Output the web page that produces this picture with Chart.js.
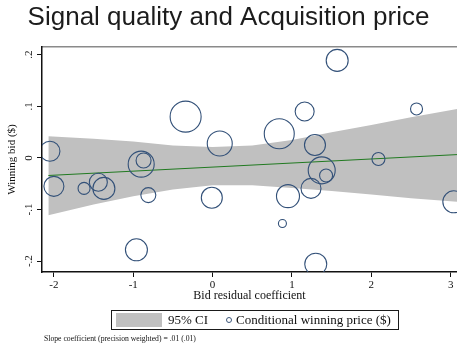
<!DOCTYPE html>
<html>
<head>
<meta charset="utf-8">
<script src="https://cdn.jsdelivr.net/npm/chart.js@4/dist/chart.umd.min.js"></script>
<style>
  html, body { margin: 0; padding: 0; background: #fff; }
  #wrap { position: relative; width: 457px; height: 344px; overflow: hidden; }
  #chart { position: absolute; left: 0; top: 0; }
  #legend {
    position: absolute; left: 111px; top: 310px; width: 286px; height: 18px;
    border: 1px solid #1a1a1a; font: 13px "Liberation Serif", serif; color: #111;
  }
  #legend .swatch { position: absolute; left: 4px; top: 2px; width: 46px; height: 14px; background: #c0c0c0; }
  #legend .lab { position: absolute; top: 0; line-height: 18px; white-space: nowrap; }
  #legend .dot {
    position: absolute; top: 6px; width: 6px; height: 6px; border-radius: 50%;
    border: 1px solid rgb(60,85,120); box-sizing: border-box;
  }
  #note {
    position: absolute; left: 44px; top: 334px; font: 7.7px "Liberation Serif", serif;
    line-height: 10px; color: #111; white-space: nowrap;
  }
</style>
</head>
<body>
<div id="wrap">
  <canvas id="chart" width="457" height="344"></canvas>
  <div id="legend"></div>
  <div id="note"></div>
</div>
<script>
// Conditional winning price per auction: bid residual coefficient vs winning bid,
// marker size proportional to precision weight.
const bidResidual = [-2.05, -2.00, -1.62, -1.44, -1.37, -0.90, -0.87, -0.81, -0.96, -0.34,
                      0.09, -0.01, 1.57, 1.16, 0.84, 1.29, 1.375, 1.43, 1.24, 0.95,
                      0.88, 1.30, 2.09, 2.57, 3.04];
const winningBid  = [0.013, -0.055, -0.059, -0.047, -0.059, -0.012, -0.005, -0.072, -0.178, 0.080,
                     0.028, -0.077, 0.189, 0.090, 0.047, 0.025, -0.024, -0.034, -0.059, -0.074,
                     -0.127, -0.206, -0.002, 0.095, -0.085];
const precision   = [1.00, 1.00, 0.60, 0.90, 1.10, 1.30, 0.75, 0.75, 1.10, 1.55,
                     1.25, 1.05, 1.10, 0.95, 1.50, 1.05, 1.35, 0.65, 1.00, 1.15,
                     0.40, 1.10, 0.65, 0.60, 1.10];

// Precision-weighted linear fit and its 95% confidence band
const fitX = [-2.07, 3.08];
const fitY = [-0.034, 0.0065];
const bandX     = [-2.07, -1.5, -1.0, -0.5, 0.0, 0.5, 1.0, 1.5, 2.0, 2.5, 3.08];
const bandUpper = [0.042, 0.037, 0.032, 0.024, 0.021, 0.024, 0.035, 0.050, 0.064, 0.079, 0.095];
const bandLower = [-0.111, -0.090, -0.074, -0.061, -0.053, -0.053, -0.058, -0.064, -0.071, -0.078, -0.085];

// Axis ticks
const xTickValues = [-2, -1, 0, 1, 2, 3];
const xTickLabels = ['-2', '-1', '0', '1', '2', '3'];
const yTickValues = [-0.2, -0.1, 0, 0.1, 0.2];
const yTickLabels = ['-.2', '-.1', '0', '.1', '.2'];

const ciLabel = '95% CI';
const pointLabel = 'Conditional winning price ($)';
const footnote = 'Slope coefficient (precision weighted) = .01 (.01)';

const RADIUS_PER_WEIGHT = 10;
const markerColor = 'rgb(50,80,120)';
const bandColor = '#c0c0c0';
const serif = '"Liberation Serif", "Times New Roman", serif';

const bubbles = bidResidual.map((x, i) => ({ x, y: winningBid[i], r: precision[i] * RADIUS_PER_WEIGHT }));
const fitLine = fitX.map((x, i) => ({ x, y: fitY[i] }));
const upper = bandX.map((x, i) => ({ x, y: bandUpper[i] }));
const lower = bandX.map((x, i) => ({ x, y: bandLower[i] }));

const tickFont = { family: serif, size: 11 };
const titleFont = { family: serif, size: 12 };

// The plot runs flush to the right edge, so no label padding is reserved there.
const noSidePadding = s => { s.paddingLeft = 0; s.paddingRight = 0; };

new Chart(document.getElementById('chart'), {
  type: 'bubble',
  data: {
    datasets: [
      {
        label: pointLabel, data: bubbles, order: 1,
        backgroundColor: 'rgba(0,0,0,0)', borderColor: markerColor, borderWidth: 1.1,
        hoverBorderWidth: 1.1
      },
      {
        type: 'line', label: 'Fitted values', data: fitLine, order: 2,
        borderColor: '#217a21', borderWidth: 1, pointRadius: 0, fill: false
      },
      {
        type: 'line', label: ciLabel, data: upper, order: 3,
        borderColor: 'rgba(0,0,0,0)', borderWidth: 0, pointRadius: 0,
        backgroundColor: bandColor, fill: '+1'
      },
      {
        type: 'line', label: 'lower', data: lower, order: 4,
        borderColor: 'rgba(0,0,0,0)', borderWidth: 0, pointRadius: 0, fill: false
      }
    ]
  },
  options: {
    responsive: false,
    animation: false,
    events: [],
    layout: { padding: 0, autoPadding: false },
    plugins: {
      legend: { display: false },
      tooltip: { enabled: false },
      title: {
        display: true,
        text: 'Signal quality and Acquisition price',
        color: '#1c1c1c',
        font: { family: '"Liberation Sans", Arial, sans-serif', size: 26, weight: 'normal', lineHeight: 1.2 },
        padding: { top: 2.4, bottom: 13.4 }
      }
    },
    scales: {
      x: {
        type: 'linear', position: 'bottom', min: -2.15, max: 3.08,
        afterBuildTicks: s => { s.ticks = xTickValues.map(v => ({ value: v })); },
        afterFit: s => { s.height = 72; noSidePadding(s); },
        ticks: {
          font: tickFont, color: '#111', padding: 2, maxRotation: 0, autoSkip: false,
          callback: v => xTickLabels[xTickValues.indexOf(v)]
        },
        grid: { display: true, drawOnChartArea: false, drawTicks: true, tickLength: 5, color: '#111', lineWidth: 1 },
        border: { display: true, color: '#111', width: 1.5 },
        title: { display: true, text: 'Bid residual coefficient', font: titleFont, color: '#111', padding: { top: 0, bottom: 41 } }
      },
      xTop: {
        type: 'linear', axis: 'x', position: 'top',
        afterFit: s => { s.height = 0; noSidePadding(s); },
        ticks: { display: false },
        grid: { display: false, drawTicks: false },
        border: { display: true, color: '#8a8a8a', width: 1.6 }
      },
      y: {
        type: 'linear', position: 'left', min: -0.221, max: 0.215,
        afterBuildTicks: s => { s.ticks = yTickValues.map(v => ({ value: v })); },
        afterFit: s => { s.width = 42; s.paddingTop = 0; s.paddingBottom = 0; },
        ticks: {
          font: tickFont, color: '#111', padding: 2, minRotation: 90, maxRotation: 90, crossAlign: 'center',
          callback: v => yTickLabels[yTickValues.indexOf(v)]
        },
        grid: { display: true, drawOnChartArea: false, drawTicks: true, tickLength: 5, color: '#111', lineWidth: 1 },
        border: { display: true, color: '#111', width: 1.5 },
        title: { display: true, text: 'Winning bid ($)', font: { family: serif, size: 11 }, color: '#111', padding: { top: 6, bottom: 0 } }
      }
    }
  }
});

// Legend and footnote below the plot
const legend = document.getElementById('legend');
legend.innerHTML =
  '<span class="swatch"></span>' +
  '<span class="lab" style="left:56px"></span>' +
  '<span class="dot" style="left:114px"></span>' +
  '<span class="lab" style="left:124px"></span>';
const labs = legend.querySelectorAll('.lab');
labs[0].textContent = ciLabel;
labs[1].textContent = pointLabel;
document.getElementById('note').textContent = footnote;
</script>
</body>
</html>
